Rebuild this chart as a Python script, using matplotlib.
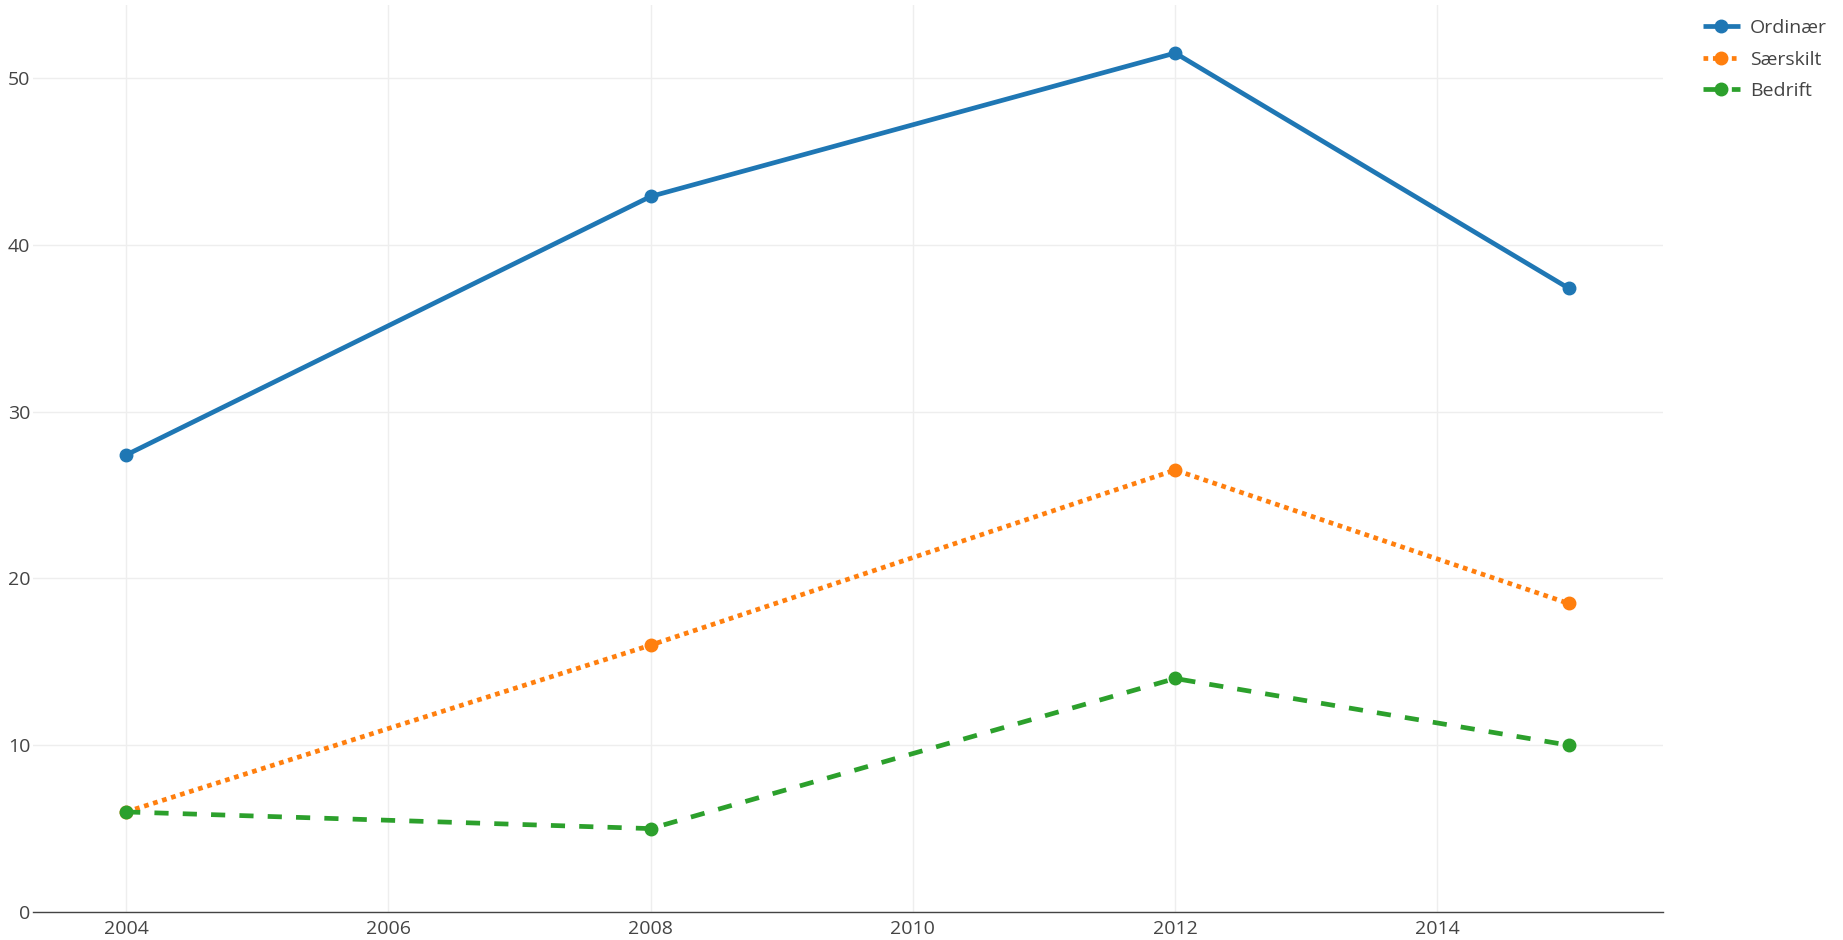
import matplotlib
matplotlib.use('Agg')
import matplotlib.pyplot as plt

years = [2004, 2008, 2012, 2015]
ordinaer = [27.4, 42.9, 51.5, 37.4]
saerskilt = [6.0, 16.0, 26.5, 18.5]
bedrift = [6.0, 5.0, 14.0, 10.0]

x_ticks = [2004, 2006, 2008, 2010, 2012, 2014]
y_ticks = [0, 10, 20, 30, 40, 50]

plt.rcParams['font.family'] = ['Open Sans', 'DejaVu Sans']

fig = plt.figure(figsize=(18.43, 9.4), dpi=100)
W, H = 1843, 940
left, right, top, bottom = 33, 1663, 5, 912
ax = fig.add_axes([left / W, 1 - bottom / H, (right - left) / W, (bottom - top) / H])

lw = 3.4
ms = 9
ax.plot(years, ordinaer, color='#1f77b4', lw=lw, marker='o', ms=ms,
        solid_capstyle='butt', label='Ordinær', zorder=3)
ax.plot(years, saerskilt, color='#ff7f0e', lw=lw, marker='o', ms=ms,
        linestyle=(0, (1, 1)), dash_capstyle='butt', label='Særskilt', zorder=3)
ax.plot(years, bedrift, color='#2ca02c', lw=lw, marker='o', ms=ms,
        linestyle=(0, (3, 3)), dash_capstyle='butt', label='Bedrift', zorder=3)

ax.set_xlim(2003.29, 2015.72)
ax.set_ylim(0, 54.38)
ax.set_xticks(x_ticks)
ax.set_yticks(y_ticks)
ax.grid(True, color='#eeeeee', lw=1)
ax.set_axisbelow(True)

for s in ['top', 'right', 'left']:
    ax.spines[s].set_visible(False)
ax.spines['bottom'].set_color('#444444')
ax.spines['bottom'].set_linewidth(1)

ax.tick_params(axis='both', length=0, labelsize=14, labelcolor='#444444')
ax.tick_params(axis='x', pad=6)
ax.tick_params(axis='y', pad=2)

# legend to the right of the plot, no frame
leg = ax.legend(loc='upper left', bbox_to_anchor=(1703 / W, 1 - 19 / H),
                bbox_transform=fig.transFigure, frameon=False, fontsize=14,
                handlelength=1.9, handletextpad=0.5, labelspacing=0.7,
                borderpad=0, borderaxespad=0, numpoints=1)
for t in leg.get_texts():
    t.set_color('#444444')

fig.savefig('out.png', dpi=100)
